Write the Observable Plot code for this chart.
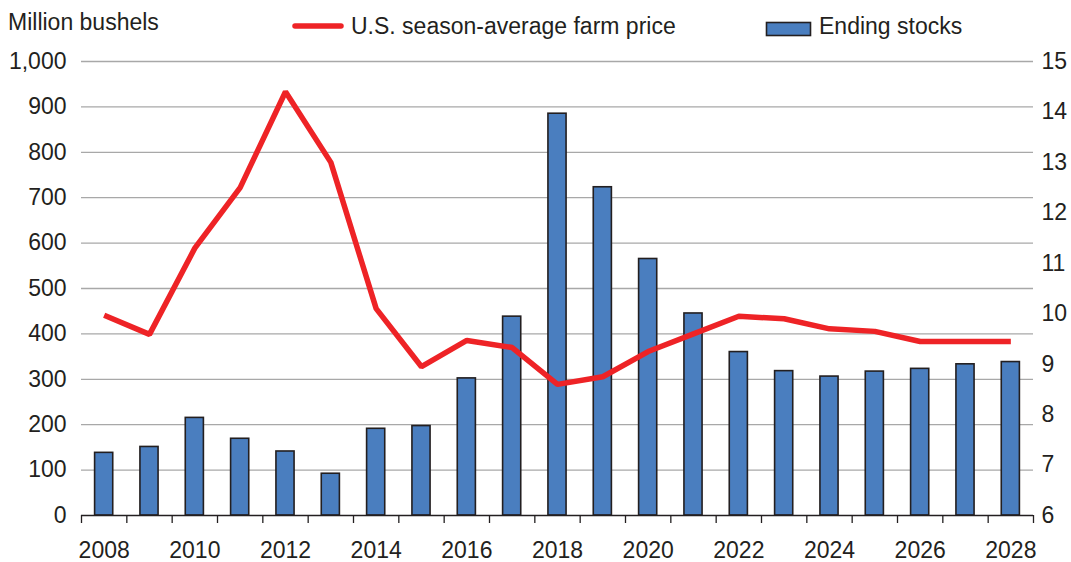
<!DOCTYPE html>
<html>
<head>
<meta charset="utf-8">
<script src="https://cdn.jsdelivr.net/npm/d3@7"></script>
<script src="https://cdn.jsdelivr.net/npm/@observablehq/plot@0.6"></script>
<style>
  html, body { margin: 0; padding: 0; background: #fff; }
  #wrap { width: 1071px; height: 562px; font-family: "Liberation Sans", Arial, Helvetica, sans-serif; color: #231f20; }
  #head { display: block; }
  #chart svg { display: block; overflow: visible; }
</style>
</head>
<body>
<div id="wrap">
  <svg id="head" width="1071" height="40" font-family="Liberation Sans, Arial, sans-serif" font-size="23" fill="#231f20">
    <text x="8" y="29.5">Million bushels</text>
    <line x1="295" y1="26" x2="341" y2="26" stroke="#ee2326" stroke-width="5.5" stroke-linecap="round"></line>
    <text x="351" y="34">U.S. season-average farm price</text>
    <rect x="766.5" y="22.5" width="44" height="13" fill="#4a7ebf" stroke="#231f20" stroke-width="1.6"></rect>
    <text x="819" y="34">Ending stocks</text>
  </svg>
  <div id="chart"></div>
</div>
<script>
// ---- data ----
const years = [2008, 2009, 2010, 2011, 2012, 2013, 2014, 2015, 2016, 2017, 2018,
               2019, 2020, 2021, 2022, 2023, 2024, 2025, 2026, 2027, 2028];
const endingStocks = [138, 151, 215, 169, 141, 92, 191, 197, 302, 438, 885,
                      723, 565, 445, 360, 318, 306, 317, 323, 333, 338];
const farmPrice = [9.97, 9.59, 11.30, 12.50, 14.40, 13.00, 10.10, 8.95, 9.47, 9.33, 8.60,
                   8.75, 9.25, 9.60, 9.95, 9.90, 9.70, 9.65, 9.45, 9.45, 9.45];
const leftTicks = [0, 100, 200, 300, 400, 500, 600, 700, 800, 900, 1000];
const rightTicks = [6, 7, 8, 9, 10, 11, 12, 13, 14, 15];
const labelYears = [2008, 2010, 2012, 2014, 2016, 2018, 2020, 2022, 2024, 2026, 2028];

const data = years.map((year, i) => ({year, stocks: endingStocks[i], price: farmPrice[i]}));

// map the right-hand (price) axis onto the left (stocks) scale
const pMin = rightTicks[0], pMax = rightTicks[rightTicks.length - 1];
const lMax = leftTicks[leftTicks.length - 1];
const toLeft = p => (p - pMin) * lMax / (pMax - pMin);
const fromLeft = v => v * (pMax - pMin) / lMax + pMin;

const boundaries = years.map(y => y - 0.5).concat([years[years.length - 1] + 0.5]);

const chart = Plot.plot({
  width: 1071,
  height: 522,
  marginTop: 21,
  marginBottom: 47,
  marginLeft: 81,
  marginRight: 38,
  style: {fontFamily: "Liberation Sans, Arial, sans-serif", fontSize: "23px", color: "#231f20", background: "#fff"},
  x: {type: "linear", domain: [boundaries[0], boundaries[boundaries.length - 1]], label: null},
  y: {domain: [0, lMax], label: null},
  marks: [
    Plot.ruleY(leftTicks.filter(v => v > 0), {stroke: "#a8a8a8", strokeWidth: 1.3}),
    Plot.rectY(data, {x1: d => d.year - 0.2, x2: d => d.year + 0.2, y1: 0, y2: "stocks",
                      fill: "#4a7ebf", stroke: "#231f20", strokeWidth: 1.6}),
    Plot.ruleY([0], {stroke: "#231f20", strokeWidth: 1.5}),
    Plot.axisX({ticks: boundaries, tickSize: 8, tickFormat: () => "", stroke: "#231f20", strokeWidth: 1.3, label: null}),
    Plot.axisX({ticks: labelYears, tickSize: 0, tickPadding: 26, tickFormat: d => String(d), label: null}),
    Plot.axisY({ticks: leftTicks, tickSize: 0, tickPadding: 15, tickFormat: d3.format(","), label: null}),
    Plot.axisY({anchor: "right", ticks: rightTicks.map(toLeft), tickSize: 0, tickPadding: 8,
                tickFormat: v => String(Math.round(fromLeft(v))), label: null}),
    Plot.line(data, {x: "year", y: d => toLeft(d.price), stroke: "#ee2326", strokeWidth: 5.5,
                     strokeLinejoin: "miter", strokeLinecap: "butt"})
  ]
});
document.getElementById("chart").appendChild(chart);
</script>
</body>
</html>
